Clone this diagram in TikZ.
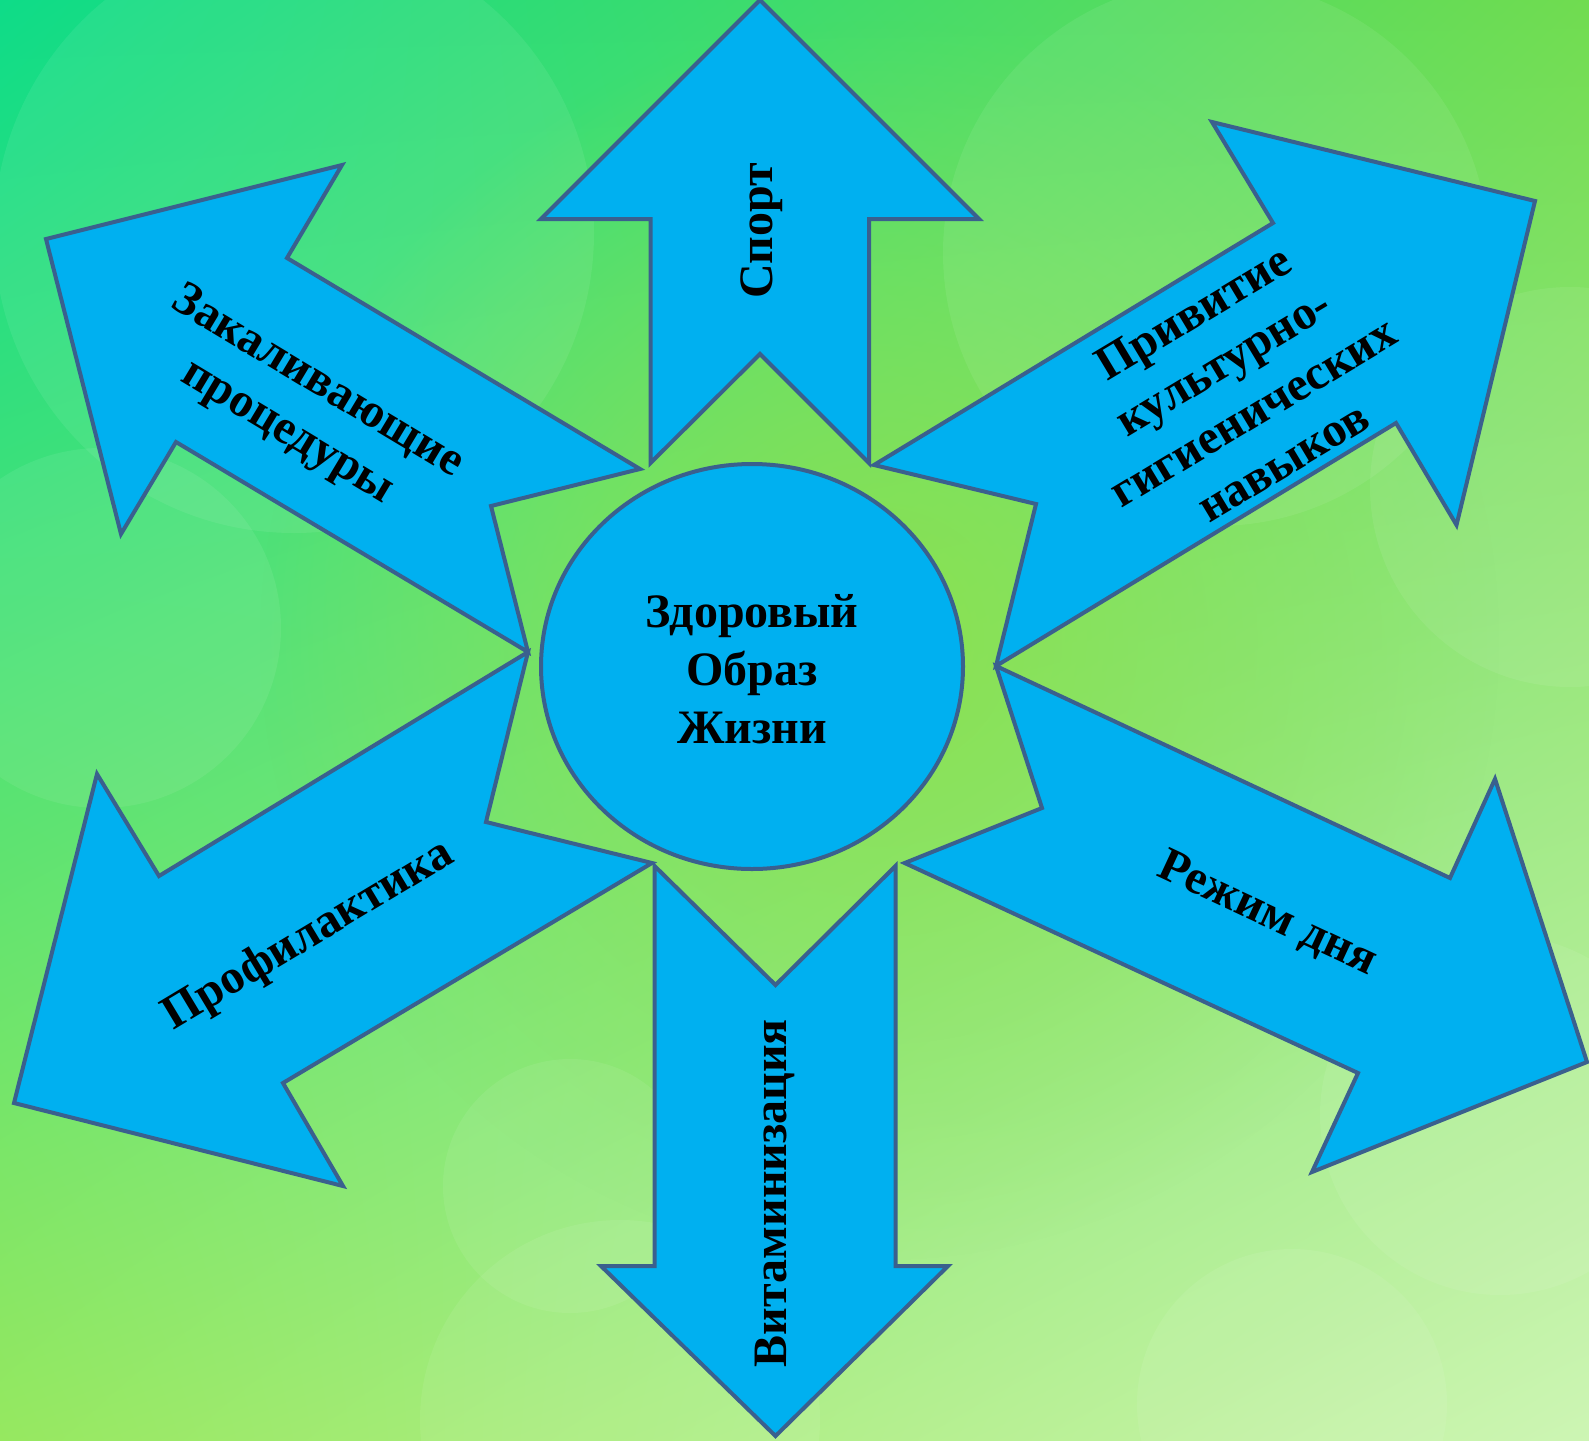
\documentclass[tikz,border=0pt]{standalone}
\usepackage{fontspec}
\setmainfont{Liberation Serif}
\usetikzlibrary{shapes.geometric,shadings,fadings}

\definecolor{arrowfill}{RGB}{0,176,240}
\definecolor{arrowline}{RGB}{58,96,142}
\definecolor{bgUL}{RGB}{14,220,136}
\definecolor{bgUR}{RGB}{112,220,80}
\definecolor{bgLL}{RGB}{150,232,96}
\definecolor{bgLR}{RGB}{205,245,180}
\definecolor{limec}{RGB}{142,224,74}

\tikzfading[name=softglow, inner color=transparent!0, outer color=transparent!100]

\begin{document}
\begin{tikzpicture}[x=1pt,y=-1pt,
  arr/.style={fill=arrowfill, draw=arrowline, line width=4pt, line join=miter},
  lbl/.style={font=\bfseries\fontsize{48}{58}\selectfont, align=center, text=black, inner sep=0pt},
  bokeh/.style={fill=white, fill opacity=0.07}]

\useasboundingbox (0,0) rectangle (1589,1440);
\shade[upper left=bgUL, upper right=bgUR, lower left=bgLL, lower right=bgLR] (0,0) rectangle (1589,1440);

\begin{scope}
\clip (0,0) rectangle (1589,1440);
\fill[limec, path fading=softglow, fill opacity=0.85] (880,640) circle[radius=620];
\fill[bokeh] (294,233) circle[radius=300];
\fill[bokeh] (101,628) circle[radius=180];
\fill[bokeh] (1216,253) circle[radius=273];
\fill[bokeh] (1570,487) circle[radius=200];
\fill[bokeh] (1292,1404) circle[radius=155];
\fill[bokeh] (570,1186) circle[radius=127];
\fill[bokeh] (620,1420) circle[radius=200];
\fill[bokeh] (1500,1115) circle[radius=180];
\end{scope}

% arrows
\draw[arr] (46,239) -- (342,165) -- (287,258) -- (640,469) -- (491,506) -- (528,652) -- (176,442) -- (121,534) -- cycle;
\draw[arr] (760,0) -- (979,219) -- (869,219) -- (869,463) -- (760,354) -- (650.5,463) -- (650.5,219) -- (541,219) -- cycle;
\draw[arr] (874,465) -- (1273,223) -- (1212,122) -- (1535,201) -- (1456.5,525) -- (1396,423) -- (996,666) -- (1036,504) -- cycle;
\draw[arr] (528,652) -- (159,876) -- (97,774) -- (14,1103) -- (343,1186) -- (283,1083) -- (652,863) -- (486,822) -- cycle;
\draw[arr] (654.6,866) -- (775.5,985) -- (895.5,866) -- (895.5,1266) -- (948,1266) -- (775.5,1436) -- (601,1266) -- (654.6,1266) -- cycle;
\draw[arr] (996,666) -- (1450,878) -- (1495,779) -- (1587,1062) -- (1312,1172) -- (1358,1073) -- (904.6,863) -- (1042,808) -- cycle;

\node[arr, ellipse, minimum width=422pt, minimum height=405pt, inner sep=0pt] (core) at (752,666.5) {};
\node[lbl] (coretext) at (752,669) {Здоровый\\Образ\\Жизни};

\node[lbl, rotate=90] (sport) at (762,231) {Спорт};
\node[lbl, rotate=-31] (zak) at (302,408) {Закаливающие\\процедуры};
\node[lbl, rotate=31] (priv) at (1238,387) {Привитие\\культурно-\\гигиенических\\навыков};
\node[lbl, rotate=31] (prof) at (309,936) {Профилактика};
\node[lbl, rotate=90] (vit) at (775,1193) {Витаминизация};
\node[lbl, rotate=-25] (rezh) at (1267,915) {Режим дня};
\end{tikzpicture}
\end{document}
